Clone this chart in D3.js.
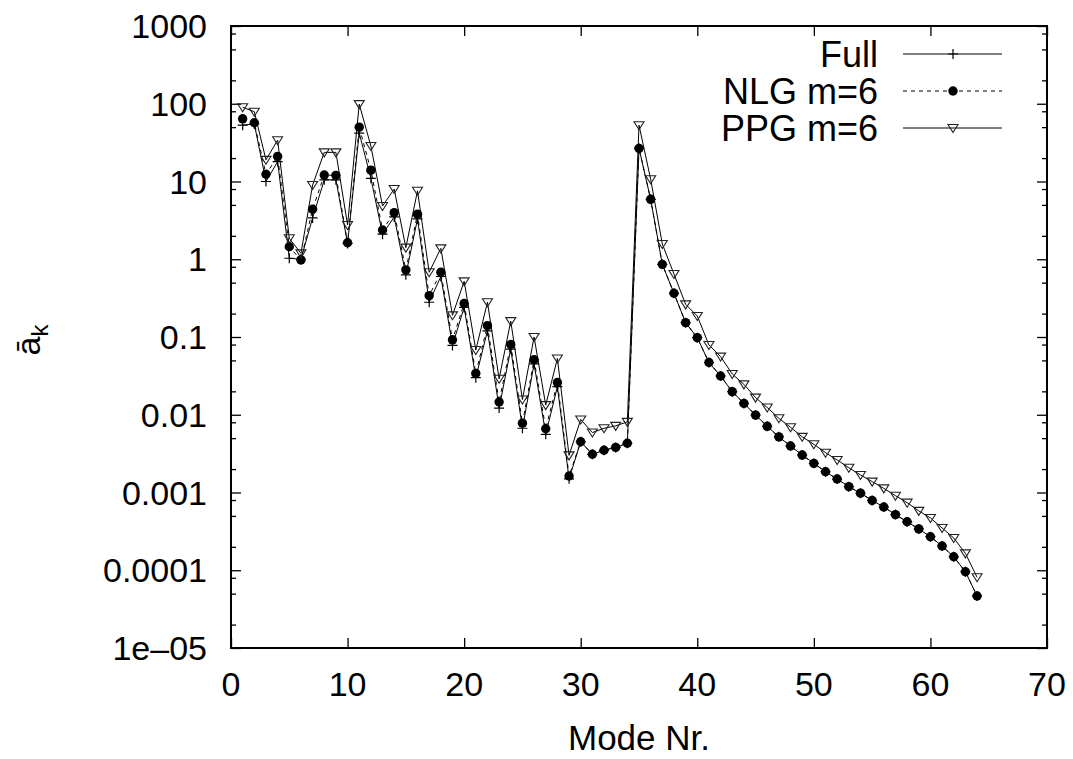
<!DOCTYPE html>
<html>
<head>
<meta charset="utf-8">
<script src="https://cdn.jsdelivr.net/npm/d3@7"></script>
<style>
  body { margin: 0; background: #fff; }
  text { font-family: "Liberation Sans", Arial, sans-serif; fill: #000; }
</style>
</head>
<body>
<svg id="chart" width="1073" height="759"></svg>
<script>
// mode numbers 1..64
var modes = d3.range(1, 65);

// values
var fullVals = [53, 55, 10, 18, 1.03, 1.0, 3.4, 10.5, 10.5, 1.6,
  42, 11, 2.1, 3.5, 0.63, 3.3, 0.28, 0.6, 0.078, 0.24,
  0.030, 0.12, 0.0122, 0.07, 0.0067, 0.045, 0.0056, 0.023, 0.0015, 0.0045,
  0.0031, 0.0035, 0.0038, 0.0043, 26.7, 5.9, 0.86, 0.365, 0.153, 0.098,
  0.047, 0.0315, 0.0198, 0.014, 0.0099, 0.0071, 0.0052, 0.00396, 0.00303, 0.00237,
  0.00185, 0.00149, 0.00119, 0.00098, 0.00079, 0.00065, 0.00052, 0.00042, 0.00034, 0.00027,
  0.000205, 0.000149, 0.0000957, 0.0000467];

var nlgVals = [64, 57, 12.4, 21, 1.45, 0.98, 4.4, 12.1, 12, 1.63,
  50, 14, 2.38, 3.97, 0.73, 3.8, 0.34, 0.68, 0.092, 0.27,
  0.034, 0.14, 0.0146, 0.08, 0.0078, 0.051, 0.0066, 0.026, 0.00163, 0.0045,
  0.0031, 0.0035, 0.0038, 0.0043, 26.7, 5.9, 0.86, 0.365, 0.153, 0.098,
  0.047, 0.0315, 0.0198, 0.014, 0.0099, 0.0071, 0.0052, 0.00396, 0.00303, 0.00237,
  0.00185, 0.00149, 0.00119, 0.00098, 0.00079, 0.00065, 0.00052, 0.00042, 0.00034, 0.00027,
  0.000205, 0.000149, 0.0000957, 0.0000467];

var ppgVals = [90, 79, 19, 34, 1.86, 1.19, 9.0, 23.7, 23.7, 2.76,
  99, 28.6, 4.84, 8.0, 1.41, 7.6, 0.68, 1.38, 0.19, 0.52,
  0.068, 0.28, 0.029, 0.16, 0.0157, 0.1, 0.0133, 0.053, 0.0030, 0.0087,
  0.0059, 0.0067, 0.0072, 0.0081, 53, 10.7, 1.57, 0.645, 0.263, 0.186,
  0.079, 0.056, 0.0334, 0.0246, 0.0166, 0.0124, 0.0090, 0.0069, 0.0052, 0.00417,
  0.00325, 0.00262, 0.00208, 0.00168, 0.00138, 0.00113, 0.00091, 0.00074, 0.00058, 0.00047,
  0.00035, 0.00026, 0.000165, 0.0000813];

var xTicks = [0, 10, 20, 30, 40, 50, 60, 70];
var yTicks = [1000, 100, 10, 1, 0.1, 0.01, 0.001, 0.0001, 0.00001];
var yTickLabels = ["1000", "100", "10", "1", "0.1", "0.01", "0.001", "0.0001", "1e\u201305"];
var seriesNames = ["Full", "NLG m=6", "PPG m=6"];

var pLeft = 231, pRight = 1047, pTop = 26, pBottom = 648;

var svg = d3.select("#chart");

var x = d3.scaleLinear().domain([0, 70]).range([pLeft, pRight]);
var y = d3.scaleLog().domain([1e-5, 1000]).range([pBottom, pTop]);

// minor ticks at 2,5,8 per decade
var minorTicks = [];
yTicks.forEach(function(t) {
    if (t < 1000) {
        [2, 5, 8].forEach(function(m) { minorTicks.push(t * m); });
    }
});

var axes = svg.append("g");

// left/right y axes (ticks inward)
axes.append("g").attr("transform", "translate(" + pLeft + ",0)")
    .call(d3.axisRight(y).tickValues(yTicks).tickSize(10).tickFormat(""));
axes.append("g").attr("transform", "translate(" + pLeft + ",0)")
    .call(d3.axisRight(y).tickValues(minorTicks).tickSize(5).tickFormat(""));
axes.append("g").attr("transform", "translate(" + pRight + ",0)")
    .call(d3.axisLeft(y).tickValues(yTicks).tickSize(10).tickFormat(""));
axes.append("g").attr("transform", "translate(" + pRight + ",0)")
    .call(d3.axisLeft(y).tickValues(minorTicks).tickSize(5).tickFormat(""));
// bottom/top x axes
axes.append("g").attr("transform", "translate(0," + pBottom + ")")
    .call(d3.axisTop(x).tickValues(xTicks).tickSize(10).tickFormat(""));
axes.append("g").attr("transform", "translate(0," + pTop + ")")
    .call(d3.axisBottom(x).tickValues(xTicks).tickSize(10).tickFormat(""));

axes.selectAll(".domain").remove();
axes.selectAll(".tick line").attr("stroke", "#000").attr("stroke-width", 1.3);

// frame
svg.append("rect")
    .attr("x", pLeft).attr("y", pTop)
    .attr("width", pRight - pLeft).attr("height", pBottom - pTop)
    .attr("fill", "none").attr("stroke", "#000").attr("stroke-width", 2);

// tick labels
svg.selectAll(".ylab").data(yTicks).enter().append("text")
    .attr("class", "ylab")
    .attr("x", 207)
    .attr("y", function(d) { return y(d); })
    .attr("dy", "0.36em")
    .attr("text-anchor", "end")
    .style("font-size", "34px")
    .text(function(d, i) { return yTickLabels[i]; });

svg.selectAll(".xlab").data(xTicks).enter().append("text")
    .attr("class", "xlab")
    .attr("x", function(d) { return x(d); })
    .attr("y", 684)
    .attr("dy", "0.36em")
    .attr("text-anchor", "middle")
    .style("font-size", "34px")
    .text(function(d) { return d; });

// axis titles
svg.append("text")
    .attr("x", 639).attr("y", 750)
    .attr("text-anchor", "middle")
    .style("font-size", "35px")
    .text("Mode Nr.");

var yt = svg.append("text")
    .attr("transform", "translate(40,340) rotate(-90)")
    .attr("text-anchor", "middle")
    .style("font-size", "34px");
yt.append("tspan").text("\u0101");
yt.append("tspan").attr("dy", 8).style("font-size", "24px").text("k");

// series
var line = d3.line()
    .x(function(d) { return x(d[0]); })
    .y(function(d) { return y(d[1]); });

function pairs(vals) {
    return modes.map(function(m, i) { return [m, vals[i]]; });
}

var plot = svg.append("g");

function plus(g, cx, cy) {
    g.append("path")
        .attr("d", "M" + (cx - 5) + "," + cy + "h10M" + cx + "," + (cy - 5) + "v10")
        .attr("stroke", "#000").attr("stroke-width", 1.2).attr("fill", "none");
}
function tri(g, cx, cy) {
    g.append("path")
        .attr("d", "M" + (cx - 5) + "," + (cy - 3.5) + "L" + (cx + 5) + "," + (cy - 3.5) + "L" + cx + "," + (cy + 4.5) + "Z")
        .attr("stroke", "#222").attr("stroke-width", 1.1).attr("fill", "none");
}

// Full
plot.append("path").datum(pairs(fullVals))
    .attr("d", line).attr("fill", "none").attr("stroke", "#000").attr("stroke-width", 1);
pairs(fullVals).forEach(function(p) { plus(plot, x(p[0]), y(p[1])); });

// NLG
plot.append("path").datum(pairs(nlgVals))
    .attr("d", line).attr("fill", "none").attr("stroke", "#000")
    .attr("stroke-width", 1).attr("stroke-dasharray", "4,4");
plot.selectAll(".nlg").data(pairs(nlgVals)).enter().append("circle")
    .attr("class", "nlg")
    .attr("cx", function(d) { return x(d[0]); })
    .attr("cy", function(d) { return y(d[1]); })
    .attr("r", 4.7).attr("fill", "#000");

// PPG
plot.append("path").datum(pairs(ppgVals))
    .attr("d", line).attr("fill", "none").attr("stroke", "#000").attr("stroke-width", 1);
pairs(ppgVals).forEach(function(p) { tri(plot, x(p[0]), y(p[1])); });

// legend
var legY = [54, 91, 128];
var leg = svg.append("g");
seriesNames.forEach(function(name, i) {
    leg.append("text")
        .attr("x", 878).attr("y", legY[i]).attr("dy", "0.36em")
        .attr("text-anchor", "end")
        .style("font-size", "36px")
        .text(name);
    var ln = leg.append("line")
        .attr("x1", 903).attr("x2", 1002)
        .attr("y1", legY[i]).attr("y2", legY[i])
        .attr("stroke", "#000").attr("stroke-width", 1);
    if (i == 1) ln.attr("stroke-dasharray", "4,4");
});
plus(leg, 953, legY[0]);
leg.append("circle").attr("cx", 953).attr("cy", legY[1]).attr("r", 4.7).attr("fill", "#000");
tri(leg, 953, legY[2]);
</script>
</body>
</html>
